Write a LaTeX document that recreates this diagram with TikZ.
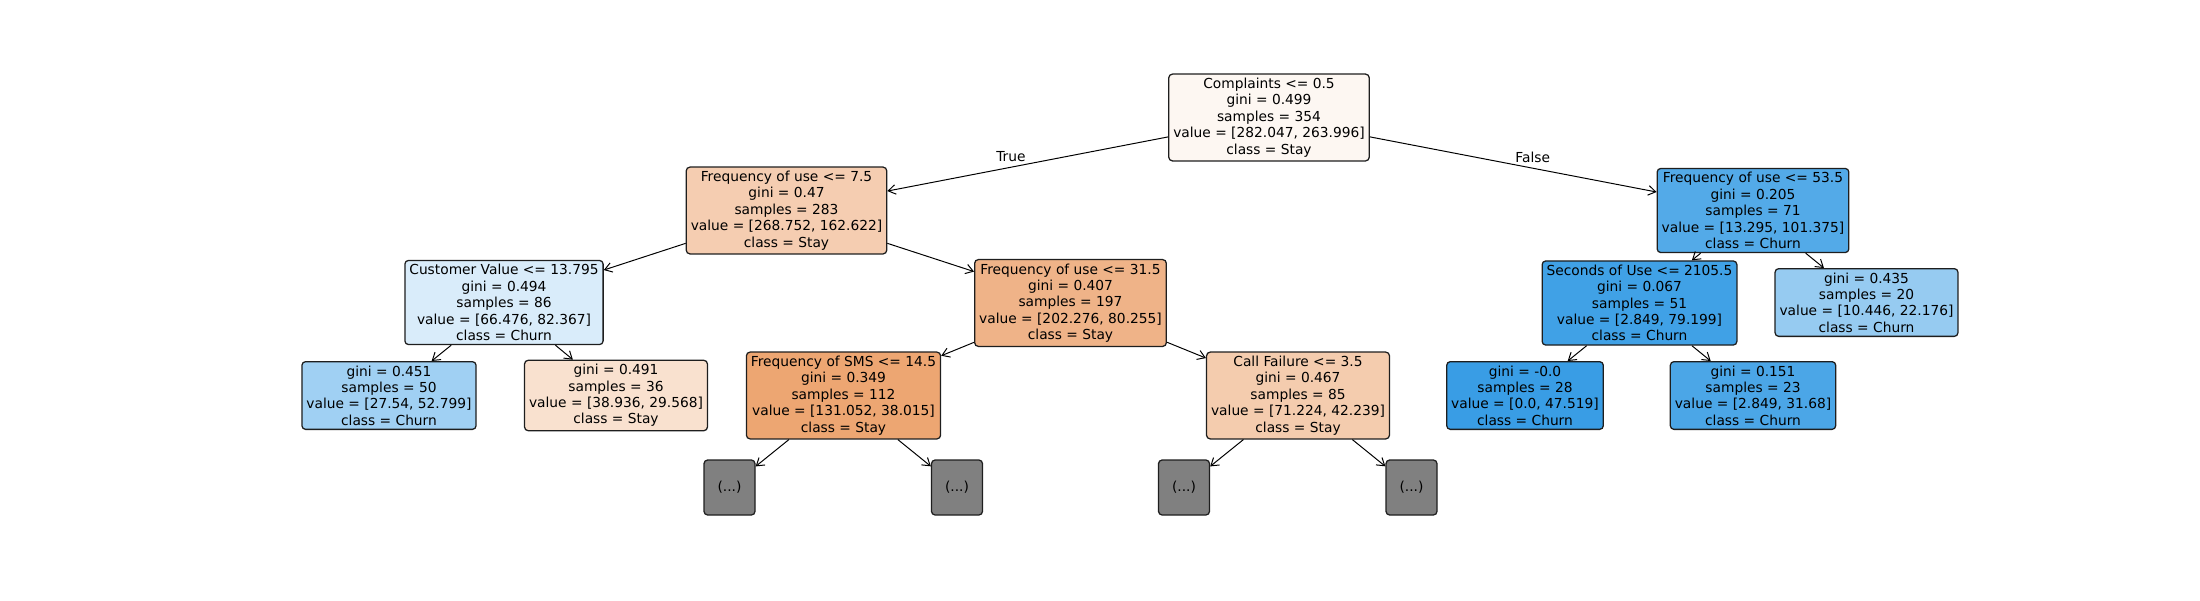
\documentclass[tikz,border=0pt]{standalone}
\usepackage{fontspec}
\setmainfont{DejaVu Sans}
\usetikzlibrary{arrows.meta}
\definecolor{stay}{RGB}{229,129,57}
\definecolor{churn}{RGB}{57,157,229}
\definecolor{trunc}{RGB}{128,128,128}
\definecolor{rim}{RGB}{30,30,30}

\begin{document}
\begin{tikzpicture}[x=0.0125cm,y=-0.0125cm,
  split/.style={draw=rim,line width=0.45pt,rounded corners=1.3pt,align=center,
    inner xsep=1.6pt,inner ysep=1.4pt,font=\fontsize{4.9}{5.83}\selectfont},
  cut/.style={split,fill=trunc,minimum width=0.6375cm,minimum height=0.6875cm},
  link/.style={-{Straight Barb[length=2.6pt,width=3.4pt]},line width=0.35pt},
  side/.style={font=\fontsize{4.9}{5.83}\selectfont,inner sep=0.6pt}]
  \useasboundingbox (0,0) rectangle (2200,600);

  % depth 0 and 1
  \node[split,fill=stay!6.4] (root) at (1269,117.5)
    {Complaints <= 0.5\\gini = 0.499\\samples = 354\\value = [282.047, 263.996]\\class = Stay};
  \node[split,fill=stay!39.5] (fu75) at (786.5,210.5)
    {Frequency of use <= 7.5\\gini = 0.47\\samples = 283\\value = [268.752, 162.622]\\class = Stay};
  \node[split,fill=churn!86.9] (fu535) at (1753,210.5)
    {Frequency of use <= 53.5\\gini = 0.205\\samples = 71\\value = [13.295, 101.375]\\class = Churn};

  % depth 2
  \node[split,fill=churn!19.3] (cv) at (504,302.5)
    {Customer Value <= 13.795\\gini = 0.494\\samples = 86\\value = [66.476, 82.367]\\class = Churn};
  \node[split,fill=stay!60.3] (fu315) at (1070.5,303)
    {Frequency of use <= 31.5\\gini = 0.407\\samples = 197\\value = [202.276, 80.255]\\class = Stay};
  \node[split,fill=churn!96.4] (sec) at (1639.5,303)
    {Seconds of Use <= 2105.5\\gini = 0.067\\samples = 51\\value = [2.849, 79.199]\\class = Churn};
  \node[split,fill=churn!52.9] (leafE) at (1866.5,302.5)
    {gini = 0.435\\samples = 20\\value = [10.446, 22.176]\\class = Churn};

  % depth 3
  \node[split,fill=churn!47.8] (leafA) at (389,395.5)
    {gini = 0.451\\samples = 50\\value = [27.54, 52.799]\\class = Churn};
  \node[split,fill=stay!24.1] (leafB) at (616,395.5)
    {gini = 0.491\\samples = 36\\value = [38.936, 29.568]\\class = Stay};
  \node[split,fill=stay!71] (sms) at (843.5,395.5)
    {Frequency of SMS <= 14.5\\gini = 0.349\\samples = 112\\value = [131.052, 38.015]\\class = Stay};
  \node[split,fill=stay!40.7] (cf) at (1298,395.5)
    {Call Failure <= 3.5\\gini = 0.467\\samples = 85\\value = [71.224, 42.239]\\class = Stay};
  \node[split,fill=churn!100] (leafC) at (1525,395.5)
    {gini = -0.0\\samples = 28\\value = [0.0, 47.519]\\class = Churn};
  \node[split,fill=churn!91] (leafD) at (1753,395.5)
    {gini = 0.151\\samples = 23\\value = [2.849, 31.68]\\class = Churn};

  % truncated branches
  \node[cut] (dotsA) at (729.5,487.5) {(...)};
  \node[cut] (dotsB) at (957,487.5) {(...)};
  \node[cut] (dotsC) at (1184,487.5) {(...)};
  \node[cut] (dotsD) at (1411.5,487.5) {(...)};

  \draw[link] (root) -- node[side,midway,anchor=south east] {True} (fu75);
  \draw[link] (root) -- node[side,midway,anchor=south west] {False} (fu535);
  \draw[link] (fu75) -- (cv);
  \draw[link] (fu75) -- (fu315);
  \draw[link] (cv) -- (leafA);
  \draw[link] (cv) -- (leafB);
  \draw[link] (fu315) -- (sms);
  \draw[link] (fu315) -- (cf);
  \draw[link] (sms) -- (dotsA);
  \draw[link] (sms) -- (dotsB);
  \draw[link] (cf) -- (dotsC);
  \draw[link] (cf) -- (dotsD);
  \draw[link] (fu535) -- (sec);
  \draw[link] (fu535) -- (leafE);
  \draw[link] (sec) -- (leafC);
  \draw[link] (sec) -- (leafD);
\end{tikzpicture}
\end{document}
